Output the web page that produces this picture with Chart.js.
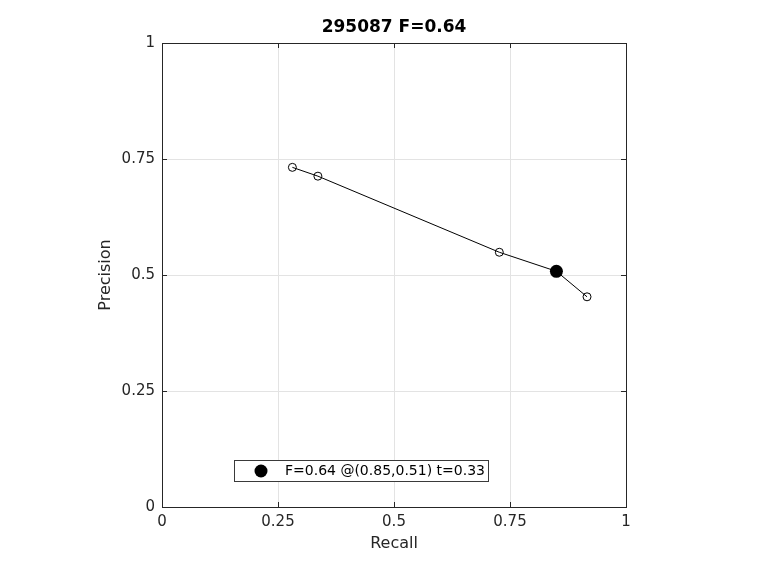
<!DOCTYPE html>
<html>
<head>
<meta charset="utf-8">
<script src="https://cdn.jsdelivr.net/npm/chart.js@4"></script>
<style>
	html, body { margin: 0; padding: 0; background: #fff; }
	#wrap { width: 760px; height: 570px; }
</style>
</head>
<body>
<div id="wrap"><canvas id="pr"></canvas></div>
<script>
// precision / recall curve
const recall = [0.281, 0.336, 0.727, 0.85, 0.916];
const precision = [0.732, 0.713, 0.549, 0.508, 0.453];

const bestRecall = [0.85];
const bestPrecision = [0.508];

const tickValues = [0, 0.25, 0.5, 0.75, 1];
const titleText = '295087 F=0.64';
const bestLabel = 'F=0.64 @(0.85,0.51) t=0.33';

const axisColor = '#262626';
const gridColor = '#e3e3e3';

function toPoints(xs, ys) {
	return xs.map((x, i) => ({x: x, y: ys[i]}));
}

// box around the plot with inward tick marks, like matlab
const boxPlugin = {
	id: 'box',
	afterDatasetsDraw(chart) {
		let ctx = chart.ctx;
		let a = chart.chartArea;
		let xs = chart.scales.x;
		let ys = chart.scales.y;
		ctx.save();
		ctx.strokeStyle = axisColor;
		ctx.lineWidth = 1;
		ctx.strokeRect(a.left + 0.5, a.top + 0.5, a.right - a.left, a.bottom - a.top);
		ctx.beginPath();
		tickValues.forEach(v => {
			let px = Math.round(xs.getPixelForValue(v)) + 0.5;
			ctx.moveTo(px, a.bottom); ctx.lineTo(px, a.bottom - 5);
			ctx.moveTo(px, a.top); ctx.lineTo(px, a.top + 5);
			let py = Math.round(ys.getPixelForValue(v)) + 0.5;
			ctx.moveTo(a.left, py); ctx.lineTo(a.left + 5, py);
			ctx.moveTo(a.right, py); ctx.lineTo(a.right - 5, py);
		});
		ctx.stroke();

		// title centred over the axes, not the whole canvas
		ctx.fillStyle = '#000';
		ctx.font = 'bold 17px "DejaVu Sans"';
		ctx.textAlign = 'center';
		ctx.textBaseline = 'middle';
		ctx.fillText(titleText, (a.left + a.right) / 2, a.top - 15);
		ctx.restore();
	}
};

// legend box sitting inside the axes
const legendBoxPlugin = {
	id: 'legendBox',
	afterDraw(chart) {
		let ctx = chart.ctx;
		let a = chart.chartArea;
		let ds = chart.data.datasets[1];
		let left = a.left + 72;
		let top = a.top + 417;
		let w = 254, h = 21;
		ctx.save();
		ctx.fillStyle = '#fff';
		ctx.fillRect(left, top, w, h);
		ctx.strokeStyle = '#3a3a3a';
		ctx.lineWidth = 1;
		ctx.strokeRect(left + 0.5, top + 0.5, w, h);
		ctx.fillStyle = '#000';
		ctx.beginPath();
		ctx.arc(left + 27, top + h / 2 + 0.5, ds.pointRadius, 0, Math.PI * 2);
		ctx.fill();
		ctx.fillStyle = '#000';
		ctx.font = '14px "DejaVu Sans"';
		ctx.textBaseline = 'middle';
		ctx.textAlign = 'left';
		ctx.fillText(ds.label, left + 51, top + h / 2 + 1);
		ctx.restore();
	}
};

document.addEventListener('DOMContentLoaded', () => {
	let context = document.getElementById('pr').getContext('2d');

	let tickFont = {family: 'DejaVu Sans', size: 15};

	let xScaleConfig = {
		type: 'linear',
		min: 0,
		max: 1,
		afterBuildTicks: (s) => { s.ticks = tickValues.map(v => ({value: v})); },
		afterFit: (s) => { s.height = 50; },
		grid: {color: gridColor, drawTicks: false},
		border: {display: false},
		ticks: {
			color: axisColor,
			font: tickFont,
			padding: 6,
			maxRotation: 0,
			callback: (v) => String(v)
		},
		title: {
			display: true,
			text: 'Recall',
			color: axisColor,
			font: {family: 'DejaVu Sans', size: 16},
			padding: {top: 0, bottom: 4}
		}
	};

	let yScaleConfig = {
		type: 'linear',
		min: 0,
		max: 1,
		afterBuildTicks: (s) => { s.ticks = tickValues.map(v => ({value: v})); },
		afterFit: (s) => { s.width = 70; },
		grid: {color: gridColor, drawTicks: false},
		border: {display: false},
		ticks: {
			color: axisColor,
			font: tickFont,
			padding: 7,
			callback: (v) => String(v)
		},
		title: {
			display: true,
			text: 'Precision',
			color: axisColor,
			font: {family: 'DejaVu Sans', size: 16},
			padding: {top: 4, bottom: 0}
		}
	};

	let config = {
		type: 'scatter',
		data: {
			datasets: [{
				label: 'curve',
				data: toPoints(recall, precision),
				showLine: true,
				borderColor: '#000',
				borderWidth: 1,
				pointRadius: 4,
				pointBorderWidth: 1,
				pointBorderColor: '#000',
				pointBackgroundColor: 'rgba(255,255,255,0)',
				order: 2
			}, {
				label: bestLabel,
				data: toPoints(bestRecall, bestPrecision),
				showLine: false,
				pointRadius: 6.5,
				pointBorderWidth: 0,
				pointBackgroundColor: '#000',
				order: 1
			}]
		},
		options: {
			responsive: true,
			maintainAspectRatio: false,
			animation: false,
			layout: {
				padding: {left: 92, right: 134, top: 43, bottom: 13}
			},
			scales: {
				x: xScaleConfig,
				y: yScaleConfig
			},
			plugins: {
				legend: {display: false},
				tooltip: {enabled: false},
				title: {display: false}
			}
		},
		plugins: [boxPlugin, legendBoxPlugin]
	};

	new Chart(context, config);
});
</script>
</body>
</html>
